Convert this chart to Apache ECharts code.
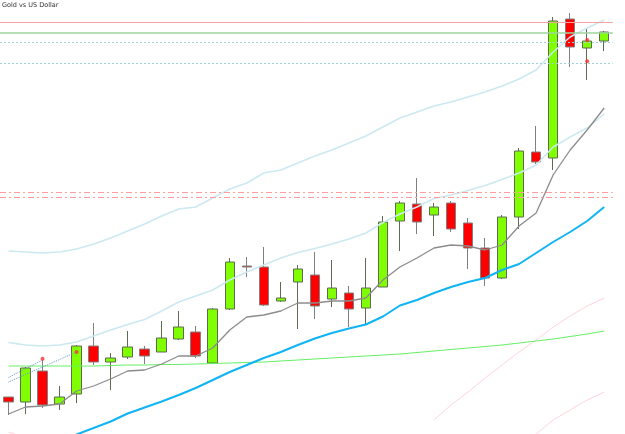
<!DOCTYPE html>
<html>
<head>
<meta charset="utf-8">
<script src="https://cdn.jsdelivr.net/npm/echarts@6/dist/echarts.min.js"></script>
<style>
  html, body { margin: 0; padding: 0; background: #fff; }
  #main { width: 625px; height: 434px; }
</style>
</head>
<body>
<div id="main"></div>
<script>
// bars, one per period (no axis labels are shown in the picture)
var bars = [];
for (var i = 0; i < 36; i++) bars.push('b' + i);

// [open, close, low, high]
var ohlc = [
  [1337, 1332, 1319, 1337], [1332, 1366, 1320, 1367], [1363, 1329, 1326, 1374], [1330, 1337, 1324, 1348],
  [1340, 1388, 1331, 1389], [1388, 1372, 1369, 1411], [1372, 1376, 1344, 1381], [1377, 1387, 1375, 1403],
  [1385, 1378, 1370, 1388], [1382, 1396, 1382, 1413], [1395, 1407, 1394, 1423], [1402, 1378, 1376, 1408],
  [1371, 1425, 1370, 1426], [1425, 1472, 1424, 1476], [1468, 1467, 1457, 1477], [1467, 1429, 1428, 1487],
  [1433, 1436, 1432, 1452], [1452, 1465, 1405, 1469], [1459, 1428, 1415, 1482], [1435, 1446, 1427, 1474],
  [1441, 1425, 1407, 1448], [1426, 1446, 1410, 1476], [1447, 1512, 1447, 1518], [1513, 1531, 1483, 1533],
  [1530, 1512, 1500, 1556], [1519, 1527, 1498, 1531], [1531, 1505, 1502, 1533], [1511, 1486, 1465, 1516],
  [1486, 1456, 1448, 1496], [1456, 1517, 1455, 1519], [1517, 1583, 1505, 1586], [1582, 1572, 1570, 1608],
  [1576, 1713, 1564, 1717], [1715, 1687, 1667, 1721], [1686, 1693, 1654, 1706], [1693, 1702, 1683, 1703]
];

var maFast = [1320, 1327, 1328, 1330, 1343, 1348, 1355, 1363, 1364, 1370, 1378, 1378,
  1386, 1404, 1417, 1419, 1423, 1431, 1431, 1433, 1433, 1436, 1454, 1467,
  1476, 1486, 1489, 1488, 1484, 1489, 1508, 1521, 1559, 1584, 1604, 1626];

var maMid = [1273, 1280, 1286, 1293, 1299.5, 1306, 1312.5, 1320.5, 1326.5, 1332.5, 1339, 1346,
  1354, 1362, 1369, 1376, 1382, 1389, 1395.5, 1401, 1405.5, 1409.5, 1417.5, 1428.5,
  1434, 1441, 1447, 1452, 1456, 1464, 1470, 1481, 1492, 1502, 1513, 1527];

var maSlow = [1368, 1368, 1368, 1368, 1368, 1368, 1368.5, 1369, 1369, 1369.5, 1369.5, 1370,
  1370.5, 1371, 1371.5, 1372, 1373, 1374, 1375, 1376, 1377, 1378, 1379, 1380,
  1381.5, 1383, 1384.5, 1386, 1387.5, 1389, 1391, 1393, 1395, 1397.5, 1400, 1403];

var bandUpper = [1483, 1482, 1481, 1482, 1485, 1490, 1496, 1503, 1510, 1518, 1525, 1527,
  1536, 1545, 1551, 1561, 1564, 1571, 1578, 1584, 1591, 1598, 1607, 1616,
  1622, 1628, 1632, 1637, 1642, 1648, 1655, 1664, 1682, 1697, 1706, 1714];

var bandLower = [1391.5, 1389, 1388, 1389, 1392, 1398, 1404, 1409.5, 1414.5, 1423, 1432, 1438,
  1444, 1454, 1462, 1469, 1476, 1481.5, 1485.5, 1490, 1495, 1501, 1511.5, 1520,
  1527, 1535.5, 1539, 1543.5, 1548.5, 1554.5, 1561, 1569, 1587, 1597, 1606, 1620];

var envUpper = [1302, 1296, null, null, null, null, null, null, null, null, null, null,
  null, null, null, null, null, null, null, null, null, null, null, null,
  null, 1314, 1329, 1342, 1356, 1369, 1382, 1394, 1407, 1418, 1428, 1436];

var envLower = [null, null, null, null, null, null, null, null, null, null, null, null,
  null, null, null, null, null, null, null, null, null, null, null, null,
  null, null, null, null, null, null, 1289, 1300, 1314, 1324, 1334, 1342];

var trendA = [1356.5, null, 1374, null, null, null, null, null, null, null, null, null,
  null, null, null, null, null, null, null, null, null, null, null, null,
  null, null, null, null, null, null, null, null, null, null, null, null];
var trendB = [1352, null, null, null, 1382, null, null, null, null, null, null, null,
  null, null, null, null, null, null, null, null, null, null, null, null,
  null, null, null, null, null, null, null, null, null, null, null, null];

// fractal marks [bar index, price]
var fractals = [[2, 1375.3], [4, 1382], [34, 1694], [34, 1672.7]];

// horizontal levels
var levelRed = 1711.7;
var levelGreen = 1701.3;
var levelsDotted = [1691.3, 1670.7];
var levelsDashDot = [1541.7, 1536.7];

var myChart = echarts.init(document.getElementById('main'));

function line(data, color, width, type) {
  return {
    type: 'line',
    data: data,
    symbol: 'none',
    z: 3,
    connectNulls: type === 'dotted',
    lineStyle: { color: color, width: width, type: type || 'solid' },
    silent: true
  };
}

var marks = [
  { yAxis: levelRed, lineStyle: { color: '#f4a4a4', width: 1, type: 'solid' } },
  { yAxis: levelGreen, lineStyle: { color: '#9ed49e', width: 1.5, type: 'solid' } }
];
levelsDotted.forEach(function (v) {
  marks.push({ yAxis: v, lineStyle: { color: '#9fd0d4', width: 1, type: [2, 2] } });
});
levelsDashDot.forEach(function (v) {
  marks.push({ yAxis: v, lineStyle: { color: '#ff9c9c', width: 1, type: [6, 3, 2, 3] } });
});

var option = {
  animation: false,
  backgroundColor: '#ffffff',
  title: {
    text: 'Gold vs US Dollar',
    left: 2,
    top: 2,
    padding: 0,
    textStyle: { fontSize: 6.5, fontWeight: 'normal', color: '#333', fontFamily: 'DejaVu Sans' }
  },
  grid: { left: -3.5, right: 12.3, top: 0, bottom: 0 },
  xAxis: {
    type: 'category',
    data: bars,
    boundaryGap: true,
    show: false
  },
  yAxis: {
    type: 'value',
    min: 1300,
    max: 1734,
    show: false,
    splitLine: { show: false }
  },
  series: [
    {
      type: 'candlestick',
      data: ohlc,
      barWidth: 10,
      z: 2,
      itemStyle: {
        color: '#80ff00',
        color0: '#ff0000',
        borderColor: '#5f6b50',
        borderColor0: '#808080',
        borderWidth: 1
      },
      markLine: {
        silent: true,
        symbol: 'none',
        label: { show: false },
        data: marks
      }
    },
    line(envUpper, '#ffd4dc', 1),
    line(envLower, '#ffd4dc', 1),
    line(bandUpper, '#cce8f0', 1.5),
    line(bandLower, '#cce8f0', 1.5),
    line(maSlow, '#66ee66', 1),
    line(maMid, '#10b4f4', 2),
    line(maFast, '#8c8c8c', 1.3),
    line(trendA, '#6a9ad0', 1, 'dotted'),
    line(trendB, '#6a9ad0', 1, 'dotted'),
    {
      type: 'scatter',
      data: fractals,
      symbolSize: 4,
      z: 4,
      itemStyle: { color: '#ff3030' },
      silent: true
    }
  ]
};
myChart.setOption(option);
</script>
</body>
</html>
